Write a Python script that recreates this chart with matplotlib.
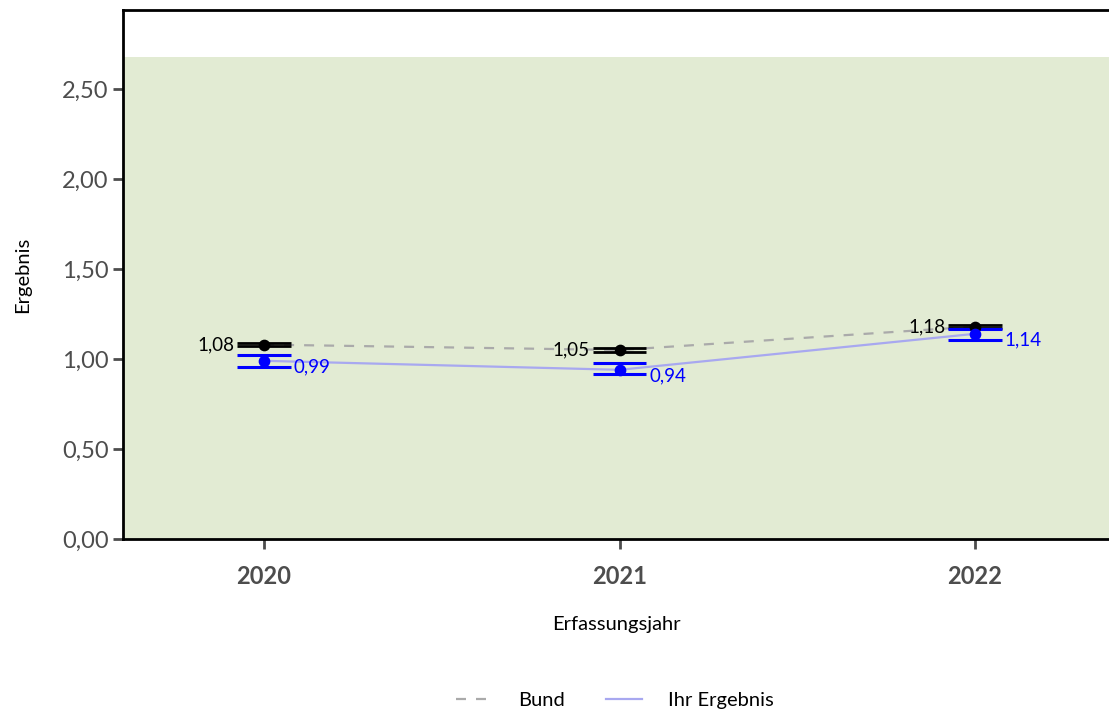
import matplotlib.pyplot as plt
from matplotlib.patches import Rectangle

plt.rcParams['font.family'] = ['Lato', 'DejaVu Sans']

years = [2020, 2021, 2022]
bund = [1.08, 1.05, 1.18]
bund_lo = [1.07, 1.04, 1.175]
bund_hi = [1.09, 1.06, 1.19]
ihr = [0.99, 0.94, 1.14]
ihr_lo = [0.955, 0.915, 1.105]
ihr_hi = [1.02, 0.98, 1.165]
green_top = 2.68


def fmt(v):
    return f"{v:.2f}".replace('.', ',')


fig = plt.figure(figsize=(11.09, 7.15), dpi=100)
ax = fig.add_axes([123 / 1109, 1 - 539 / 715, 1 - 123 / 1109, (539 - 10) / 715])

ax.set_xlim(2019.603, 2022.377)
ax.set_ylim(0, 2.939)

# Referenzbereich
ax.add_patch(Rectangle((2019.603, 0), 3, green_top, facecolor='#e2ebd3',
                       edgecolor='none', zorder=0))

ax.plot(years, bund, color='#aaaaaa', ls=(0, (4.5, 4.5)), lw=1.6, zorder=2, label='Bund')
ax.plot(years, ihr, color='#a8a8f0', lw=1.6, zorder=2, label='Ihr Ergebnis')

hw = 0.075
for x, lo, hi in zip(years, bund_lo, bund_hi):
    ax.hlines([lo, hi], x - hw, x + hw, color='black', lw=2.0, zorder=3)
for x, lo, hi in zip(years, ihr_lo, ihr_hi):
    ax.hlines([lo, hi], x - hw, x + hw, color='#0000ff', lw=2.2, zorder=3)

ax.scatter(years, bund, color='black', s=55, zorder=4)
ax.scatter(years, ihr, color='#0000ff', s=55, zorder=4)

for x, v in zip(years, bund):
    ax.text(x - hw - 0.008, v, fmt(v), ha='right', va='center', fontsize=13.5, color='black', zorder=5)
for x, v in zip(years, ihr):
    ax.text(x + hw + 0.008, v - 0.035, fmt(v), ha='left', va='center', fontsize=13.5, color='#0000ff', zorder=5)

ax.set_yticks([0, 0.5, 1, 1.5, 2, 2.5])
ax.set_yticklabels([fmt(v) for v in [0, 0.5, 1, 1.5, 2, 2.5]])
ax.set_xticks(years)
ax.set_xticklabels([str(y) for y in years], fontweight='bold')
ax.tick_params(axis='both', labelsize=17, colors='#4d4d4d', length=7, width=2)
ax.tick_params(axis='x', pad=12)

for s in ['left', 'top', 'bottom']:
    ax.spines[s].set_linewidth(2)
    ax.spines[s].set_color('black')
ax.spines['right'].set_visible(False)

ax.set_xlabel('Erfassungsjahr', fontsize=14.5, labelpad=20)
ax.set_ylabel('Ergebnis', fontsize=14.5, labelpad=22)

fig.legend(loc='center', bbox_to_anchor=(615 / 1109, 1 - 700 / 715), ncol=2,
           frameon=False, fontsize=14.5, handlelength=1.8, handletextpad=1.3,
           columnspacing=2.0)

fig.savefig('out.png', dpi=100)
